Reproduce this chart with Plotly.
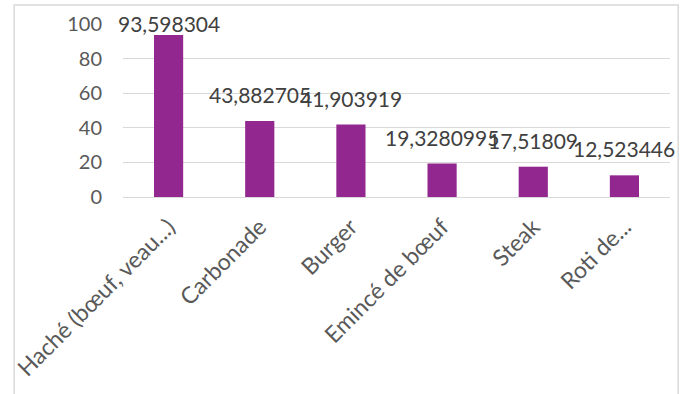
import plotly.graph_objects as go

categories = ["Haché (bœuf, veau...)", "Carbonade", "Burger", "Emincé de bœuf", "Steak", "Roti de..."]
values = [93.598304, 43.882705, 41.903919, 19.3280995, 17.51809, 12.523446]
value_labels = ["93,598304", "43,882705", "41,903919", "19,3280995", "17,51809", "12,523446"]
y_ticks = [0, 20, 40, 60, 80, 100]

FONT = "Lato"
GREY = "#595959"
Y_MAX = 100

fig = go.Figure()
fig.add_trace(go.Bar(
    x=categories, y=values,
    marker=dict(color="#92278F", line=dict(width=0)),
    width=0.32, hoverinfo="skip",
))

# data labels: above each bar; a label that would leave the chart area is pulled down onto the bar
annotations = []
for cat, val, lab in zip(categories, values, value_labels):
    shift = -3 if val > 0.85 * Y_MAX else 12
    annotations.append(dict(x=cat, y=val, xref="x", yref="y", text=lab, showarrow=False,
                            yanchor="bottom", xanchor="center", yshift=shift,
                            font=dict(family=FONT, size=21, color="#404040")))

fig.update_layout(
    width=684, height=394,
    margin=dict(l=123, r=14, t=24, b=197, autoexpand=False),
    paper_bgcolor="white", plot_bgcolor="white",
    showlegend=False,
    font=dict(family=FONT, color=GREY),
    annotations=annotations,
    xaxis=dict(type="category", tickangle=-45, automargin=False,
               range=[-0.5, len(categories) - 0.5],
               tickfont=dict(family=FONT, size=23, color=GREY),
               showline=False, showgrid=False, ticks="", ticklabelstandoff=11),
    yaxis=dict(range=[0, Y_MAX], tickvals=y_ticks, automargin=False,
               tickfont=dict(family=FONT, size=20, color=GREY),
               showgrid=True, gridcolor="#D9D9D9", gridwidth=1, zeroline=True,
               zerolinecolor="#D9D9D9", zerolinewidth=1, ticks="", ticklabelstandoff=20),
    shapes=[dict(type="rect", xref="paper", yref="paper", x0=-0.199, x1=1.015, y0=-1.3, y1=1.11,
                 line=dict(color="#D9D9D9", width=1.5), fillcolor="rgba(0,0,0,0)", layer="below")],
)

fig.write_html("out.html")
